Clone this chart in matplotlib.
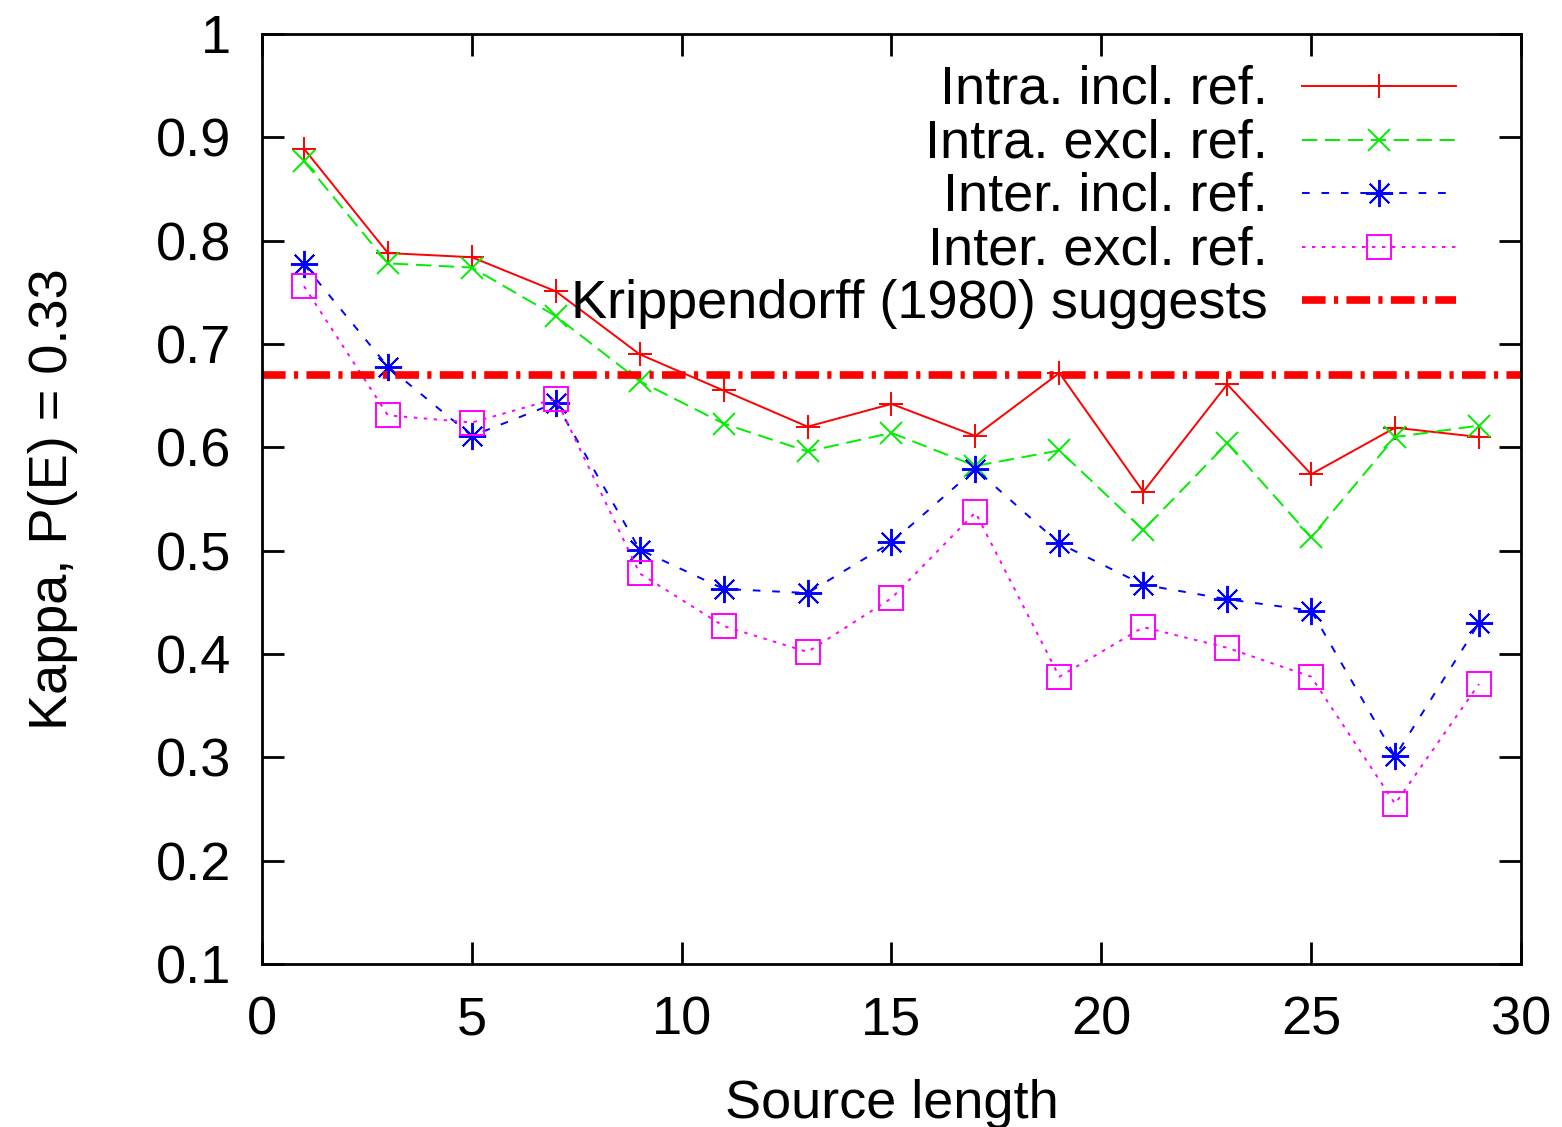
import numpy as np
import matplotlib
matplotlib.use("Agg")
import matplotlib.pyplot as plt
from matplotlib.lines import Line2D

# ------------------------------------------------------------
# Data
# ------------------------------------------------------------
source_length = [1, 3, 5, 7, 9, 11, 13, 15, 17, 19, 21, 23, 25, 27, 29]

intra_incl = [0.889, 0.788, 0.784, 0.751, 0.690, 0.655, 0.620, 0.642, 0.611,
              0.672, 0.557, 0.661, 0.574, 0.619, 0.610]
intra_excl = [0.877, 0.778, 0.774, 0.727, 0.664, 0.623, 0.596, 0.614, 0.582,
              0.597, 0.520, 0.604, 0.513, 0.610, 0.621]
inter_incl = [0.777, 0.678, 0.611, 0.643, 0.501, 0.463, 0.459, 0.508, 0.579,
              0.507, 0.467, 0.453, 0.442, 0.301, 0.430]
inter_excl = [0.756, 0.631, 0.624, 0.647, 0.478, 0.427, 0.402, 0.454, 0.537,
              0.378, 0.426, 0.406, 0.378, 0.255, 0.371]

krippendorff = 0.67

x_ticks = [0, 5, 10, 15, 20, 25, 30]
y_ticks = [0.1, 0.2, 0.3, 0.4, 0.5, 0.6, 0.7, 0.8, 0.9, 1.0]
y_ticklabels = ["0.1", "0.2", "0.3", "0.4", "0.5", "0.6", "0.7", "0.8", "0.9", "1"]

# ------------------------------------------------------------
# Plot (gnuplot look)
# ------------------------------------------------------------
plt.rcParams['font.family'] = ['Liberation Sans', 'DejaVu Sans']
plt.rcParams['lines.scale_dashes'] = False

W, H = 1562, 1127
fig = plt.figure(figsize=(W / 100, H / 100), dpi=100)
ax = fig.add_axes([262 / W, 1 - 964 / H, (1521 - 262) / W, (964 - 34) / H])

FS = 39
lw = 1.4
ms = 17
star = (8, 2, 0)

series = [
    # label, data, color, marker, marker size, dashes
    ('Intra. incl. ref.', intra_incl, '#ff0000', '+', ms, None),
    ('Intra. excl. ref.', intra_excl, '#00ee00', 'x', ms * 0.9, (11, 5.5)),
    ('Inter. incl. ref.', inter_incl, '#0000ff', star, ms * 1.15, (5.5, 8.5)),
    ('Inter. excl. ref.', inter_excl, '#ff00ff', 's', ms, (2.5, 4.7)),
]

for label, y, c, m, s, d in series:
    kw = dict(color=c, lw=lw, marker=m, ms=s, mew=lw, mfc='none')
    if d is not None:
        kw['dashes'] = d
    ax.plot(source_length, y, **kw)

kripp_kw = dict(color='#ff0000', lw=5.5, dashes=(17, 6, 3, 6))
ax.axhline(krippendorff, **kripp_kw)

ax.set_xlim(0, 30)
ax.set_ylim(0.1, 1.0)
ax.set_xticks(x_ticks)
ax.set_yticks(y_ticks)
ax.set_yticklabels(y_ticklabels)

ax.tick_params(direction='in', length=16, width=2.0, labelsize=FS,
               top=True, right=True)
ax.tick_params(axis='y', pad=22)
ax.tick_params(axis='x', pad=23)
for sp in ax.spines.values():
    sp.set_linewidth(2.0)

ax.set_xlabel('Source length', fontsize=FS, labelpad=24)
ax.set_ylabel('Kappa, P(E) = 0.33', fontsize=FS, labelpad=56)

# ------------------------------------------------------------
# Legend, placed gnuplot-style (text right-aligned, sample on right)
# ------------------------------------------------------------
def fx(px):
    return px / W

def fy(py):
    return 1 - py / H

legend_items = [(lab, c, m, s, d) for lab, _, c, m, s, d in series]
row0, step = 86, 53.5
for i, (lab, c, m, s, d) in enumerate(legend_items):
    yy = fy(row0 + step * i)
    fig.text(fx(1268), fy(row0 + step * i + 4), lab, ha='right',
             va='center', fontsize=FS)
    kw = dict(color=c, lw=lw)
    if d is not None:
        kw['dashes'] = d
    fig.add_artist(Line2D([fx(1302), fx(1456)], [yy, yy],
                          transform=fig.transFigure, **kw))
    fig.add_artist(Line2D([fx(1379)], [yy], transform=fig.transFigure,
                          color=c, lw=0, marker=m, ms=s, mew=lw, mfc='none'))

yy = fy(row0 + step * 4)
fig.text(fx(1268), fy(row0 + step * 4 + 4), 'Krippendorff (1980) suggests',
         ha='right', va='center', fontsize=FS)
fig.add_artist(Line2D([fx(1302), fx(1456)], [yy, yy],
                      transform=fig.transFigure, **kripp_kw))

fig.savefig('out.png', dpi=100)
